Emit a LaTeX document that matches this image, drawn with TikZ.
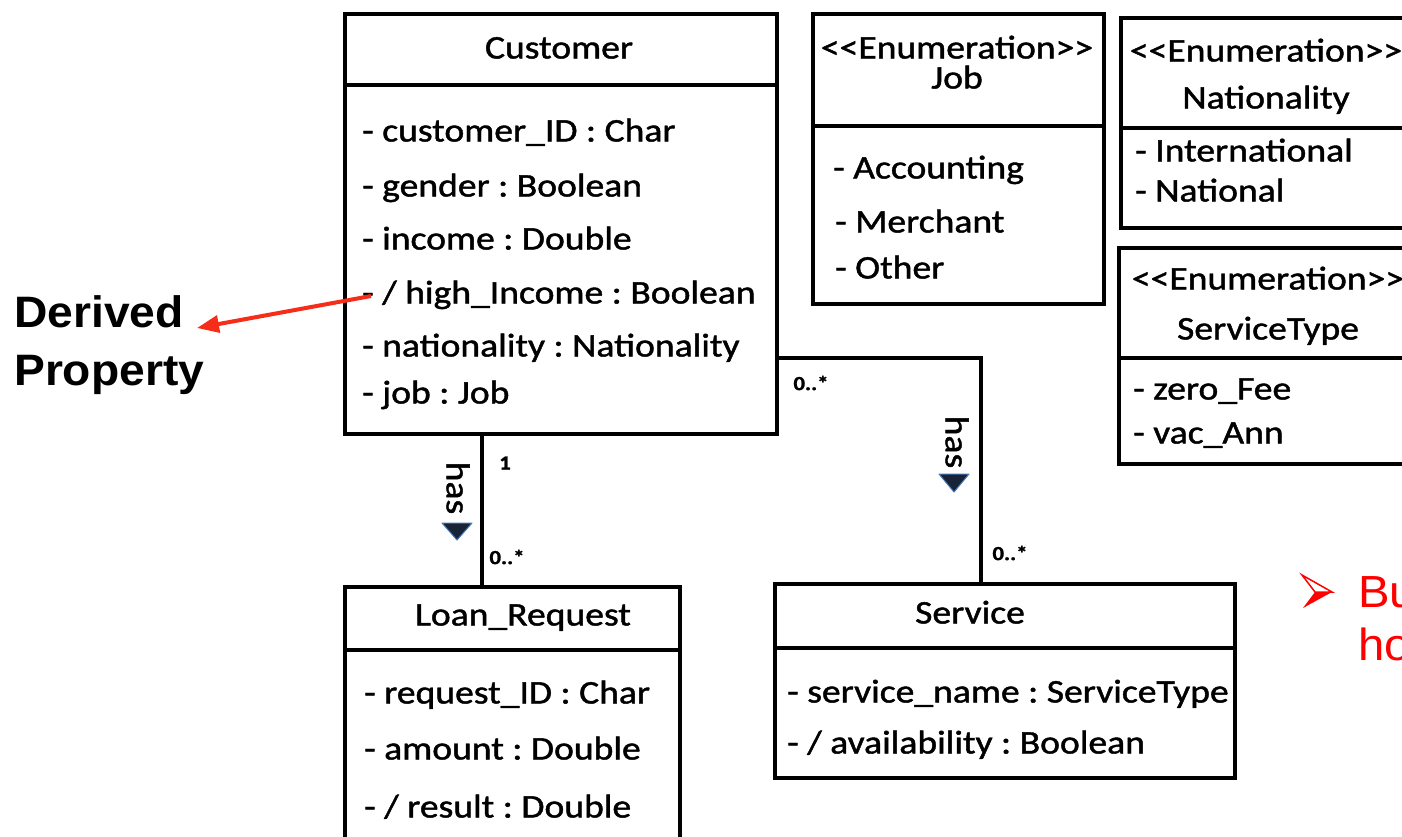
\documentclass[tikz,border=0pt]{standalone}
\usepackage{fontspec}
\setmainfont{Carlito}
\newfontfamily\umlfont[FakeStretch=1.14,FakeBold=1.3]{Carlito}
\newfontfamily\notefont[FakeStretch=1.05]{Liberation Sans}
\usetikzlibrary{arrows.meta}
\definecolor{callout}{RGB}{245,45,25}
\definecolor{navfill}{RGB}{25,35,55}
\definecolor{navedge}{RGB}{70,120,180}
\frenchspacing
\begin{document}
\begin{tikzpicture}[x=1pt,y=-1pt,
  umlbox/.style={draw, line width=4pt, inner sep=0pt, anchor=north west},
  sep/.style={line width=4pt},
  txt/.style={font=\umlfont\fontsize{33}{40}\selectfont, inner sep=0pt, text height=1.3em, text depth=0em},
  attr/.style={txt, anchor=west},
  ttl/.style={txt, anchor=center},
  mult/.style={font=\umlfont\bfseries\fontsize{20}{24}\selectfont, inner sep=0pt},
  rolename/.style={font=\umlfont\fontsize{33}{40}\selectfont, inner sep=0pt, rotate=-90},
  navtri/.style={fill=navfill, draw=navedge, line width=1pt, line join=round},
  link/.style={line width=4pt},
  note/.style={font=\notefont\bfseries\fontsize{44}{52}\selectfont, inner sep=0pt, anchor=base west},
  bullettext/.style={font=\notefont\fontsize{45}{53}\selectfont, text=red, inner sep=0pt, anchor=base west},
]
\useasboundingbox (0,0) rectangle (1402,836);
\fill[white] (0,0) rectangle (1402,836);
\clip (0,0) rectangle (1402,836);

% ---- Customer class
\node[umlbox, minimum width=432pt, minimum height=420pt] (cust) at (343,12) {};
\draw[sep] ([yshift=-73pt]cust.north west) -- ([yshift=-73pt]cust.north east);
\node[ttl] (custname) at (559,52) {Customer};
\node[attr] (c1) at (362,135) {- customer\_ID : Char};
\node[attr] (c2) at (362,190) {- gender : Boolean};
\node[attr] (c3) at (362,243) {- income : Double};
\node[attr] (c4) at (362,297) {- / high\_Income : Boolean};
\node[attr] (c5) at (362,350) {- nationality : Nationality};
\node[attr] (c6) at (362,397) {- job : Job};

% ---- Job enumeration
\node[umlbox, minimum width=291pt, minimum height=290pt] (job) at (811,12) {};
\draw[sep] ([yshift=-114pt]job.north west) -- ([yshift=-114pt]job.north east);
\node[ttl] (jobst) at (957,52) {<{}<Enumeration>{}>};
\node[ttl] (jobname) at (957,82) {Job};
\node[attr] (j1) at (833,172) {- Accounting};
\node[attr] (j2) at (835,226) {- Merchant};
\node[attr] (j3) at (835,272) {- Other};

% ---- Nationality enumeration
\node[umlbox, minimum width=300pt, minimum height=210pt] (nat) at (1119,16) {};
\draw[sep] ([yshift=-112pt]nat.north west) -- ([yshift=-112pt]nat.north east);
\node[ttl] (natst) at (1266,55) {<{}<Enumeration>{}>};
\node[ttl] (natname) at (1266,102) {Nationality};
\node[attr] (n1) at (1135,155) {- International};
\node[attr] (n2) at (1135,195) {- National};

% ---- ServiceType enumeration
\node[umlbox, minimum width=300pt, minimum height=216pt] (stype) at (1117,246) {};
\draw[sep] ([yshift=-112pt]stype.north west) -- ([yshift=-112pt]stype.north east);
\node[ttl] (stst) at (1268,283) {<{}<Enumeration>{}>};
\node[ttl] (stname) at (1268,333) {ServiceType};
\node[attr] (s1) at (1133,393) {- zero\_Fee};
\node[attr] (s2) at (1133,437) {- vac\_Ann};

% ---- Loan_Request class
\node[umlbox, minimum width=335pt, minimum height=320pt] (loan) at (343,585) {};
\draw[sep] ([yshift=-65pt]loan.north west) -- ([yshift=-65pt]loan.north east);
\node[ttl] (loanname) at (523,619) {Loan\_Request};
\node[attr] (l1) at (364,697) {- request\_ID : Char};
\node[attr] (l2) at (364,753) {- amount : Double};
\node[attr] (l3) at (364,811) {- / result : Double};

% ---- Service class
\node[umlbox, minimum width=460pt, minimum height=194pt] (serv) at (773,582) {};
\draw[sep] ([yshift=-66pt]serv.north west) -- ([yshift=-66pt]serv.north east);
\node[ttl] (servname) at (970,617) {Service};
\node[attr] (v1) at (787,696) {- service\_name : ServiceType};
\node[attr] (v2) at (787,747) {- / availability : Boolean};

% ---- associations
\coordinate (lk) at (482,0);
\draw[link] (cust.south -| lk) -- (loan.north -| lk);
\coordinate (bend) at (981,358);
\draw[link] (cust.east |- bend) -- (bend) -- (serv.north -| bend);

\node[rolename] (has1) at (458,488) {has};
\draw[navtri] (442,523) -- (472,523) -- (457,540) -- cycle;
\node[rolename] (has2) at (957,442) {has};
\draw[navtri] (939,474) -- (969,474) -- (954,492) -- cycle;

\node[mult] (m1) at (505,463) {1};
\node[mult] (m2) at (507,557) {0..*};
\node[mult] (m3) at (811,383) {0..*};
\node[mult] (m4) at (1010,553) {0..*};

% ---- annotation for the derived attribute
\node[note] (dp1) at (14,327) {Derived};
\node[note] (dp2) at (14,385) {Property};
\coordinate (dpfrom) at (371,296);
\coordinate (dptip) at (197,328);
\draw[callout, line width=4pt, -{Triangle[length=22pt,width=17pt]}] (dpfrom) -- (dptip);

% ---- bullet point
\fill[red] (1315,592) -- (1332,592) -- (1303,608) -- cycle;
\draw[red, line width=1.5pt, line join=miter] (1302,575) -- (1332,592) -- (1315,592) -- cycle;
\node[bullettext] (b1) at (1358,607) {Bu};
\node[bullettext] (b2) at (1358,660) {ho};
\end{tikzpicture}
\end{document}
